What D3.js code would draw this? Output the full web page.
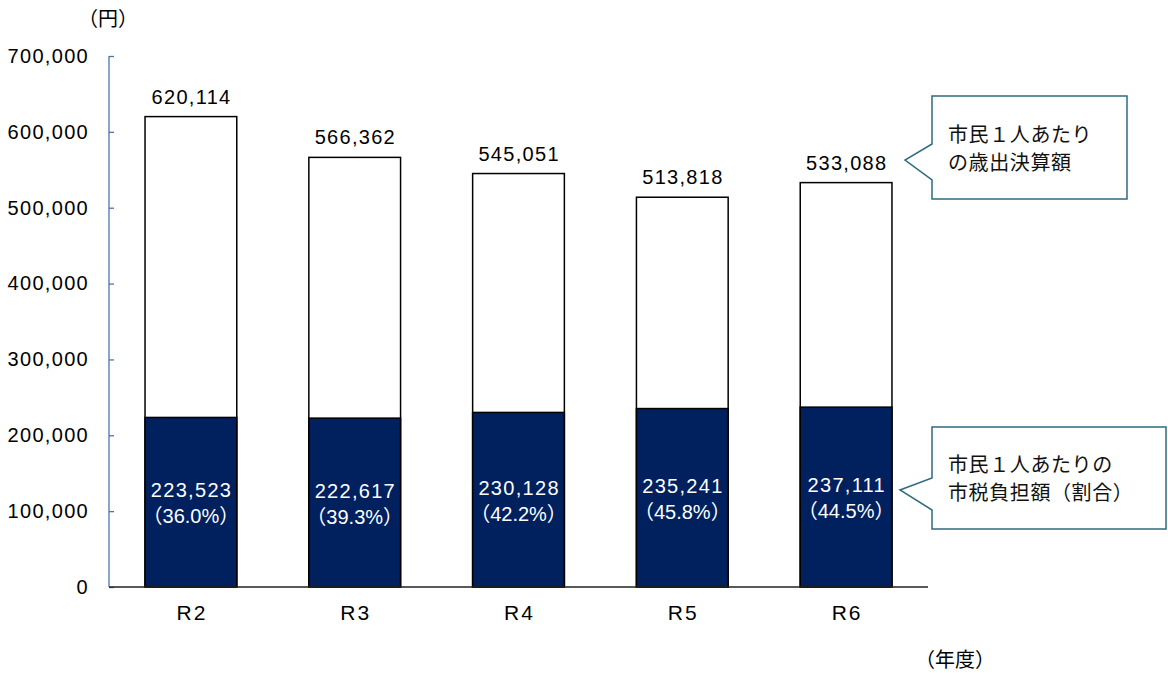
<!DOCTYPE html>
<html>
<head>
<meta charset="utf-8">
<script src="https://cdn.jsdelivr.net/npm/d3@7"></script>
<style>
  body { margin: 0; background: #fff; }
  svg { display: block; font-family: "Liberation Sans", Arial, "Noto Sans CJK JP", sans-serif; }
</style>
</head>
<body>
<svg id="chart" width="1168" height="673"></svg>
<script>
var years = ["R2", "R3", "R4", "R5", "R6"];
var expenditure = [620114, 566362, 545051, 513818, 533088];
var taxBurden = [223523, 222617, 230128, 235241, 237111];
var shareLabels = ["36.0%", "39.3%", "42.2%", "45.8%", "44.5%"];
var yTicks = [0, 100000, 200000, 300000, 400000, 500000, 600000, 700000];

var svg = d3.select("#chart");
var fmt = d3.format(",");
var fs = 20;
var ls = 1.3; // wider numerals like the original

var xScale = d3.scaleBand().domain(years).range([109, 928]).paddingInner(0.44).paddingOuter(0.22);
var yScale = d3.scaleLinear().domain([0, 700000]).range([587, 56]);

// y axis
var yAxis = d3.axisLeft(yScale).tickValues(yTicks).tickSize(-5).tickPadding(20).tickFormat(fmt);
var gy = svg.append("g").attr("transform", "translate(109,0)").call(yAxis);
gy.select(".domain").attr("stroke", "#4a76b0").attr("stroke-width", 1.3)
    .attr("d", "M0," + yScale(700000) + "V" + yScale(0));
gy.selectAll(".tick line").attr("stroke", "#4a76b0").attr("stroke-width", 1.3);
gy.selectAll(".tick text").attr("font-size", fs).attr("fill", "#000")
    .attr("letter-spacing", ls)
    .attr("font-family", "'Liberation Sans', Arial, sans-serif");

// total bars (white)
svg.selectAll(".total")
    .data(years)
    .enter()
    .append("rect")
    .attr("class", "total")
    .attr("x", function (d) { return xScale(d); })
    .attr("width", xScale.bandwidth())
    .attr("y", function (d, i) { return yScale(expenditure[i]); })
    .attr("height", function (d, i) { return yScale(0) - yScale(expenditure[i]); })
    .attr("fill", "#fff")
    .attr("stroke", "#000")
    .attr("stroke-width", 1.5);

// tax bars (navy)
svg.selectAll(".tax")
    .data(years)
    .enter()
    .append("rect")
    .attr("class", "tax")
    .attr("x", function (d) { return xScale(d); })
    .attr("width", xScale.bandwidth())
    .attr("y", function (d, i) { return yScale(taxBurden[i]); })
    .attr("height", function (d, i) { return yScale(0) - yScale(taxBurden[i]); })
    .attr("fill", "#00205e")
    .attr("stroke", "#000")
    .attr("stroke-width", 1.5);

// x baseline
svg.append("line")
    .attr("x1", 109).attr("x2", 928)
    .attr("y1", yScale(0)).attr("y2", yScale(0))
    .attr("stroke", "#222").attr("stroke-width", 1.3);

// total labels
svg.selectAll(".totLabel")
    .data(years)
    .enter()
    .append("text")
    .attr("x", function (d) { return xScale(d) + xScale.bandwidth() / 2 + ls / 2; })
    .attr("y", function (d, i) { return yScale(expenditure[i]) - 13; })
    .attr("text-anchor", "middle")
    .attr("font-size", fs)
    .attr("letter-spacing", ls)
    .text(function (d, i) { return fmt(expenditure[i]); });

// inside labels
years.forEach(function (d, i) {
    var cx = xScale(d) + xScale.bandwidth() / 2 + ls / 2;
    var cy = yScale(taxBurden[i] / 2);
    var t = svg.append("text")
        .attr("text-anchor", "middle")
        .attr("fill", "#fff")
        .attr("letter-spacing", ls)
        .attr("font-size", fs);
    t.append("tspan").attr("x", cx).attr("y", cy - 5).text(fmt(taxBurden[i]));
    t.append("tspan").attr("x", cx - ls / 2).attr("y", cy + 21)
        .attr("letter-spacing", 0)
        .text("（" + shareLabels[i] + "）");
});

// category labels
svg.selectAll(".cat")
    .data(years)
    .enter()
    .append("text")
    .attr("x", function (d) { return xScale(d) + xScale.bandwidth() / 2 + 1; })
    .attr("y", 620)
    .attr("text-anchor", "middle")
    .attr("font-size", 21)
    .attr("letter-spacing", 2)
    .text(function (d) { return d; });

// unit labels
svg.append("text").attr("x", 108).attr("y", 26).attr("text-anchor", "middle")
    .attr("font-size", 20).attr("font-family", "'Noto Sans CJK JP', sans-serif").text("（円）");
svg.append("text").attr("x", 955).attr("y", 667).attr("text-anchor", "middle")
    .attr("font-size", 20).attr("font-family", "'Noto Sans CJK JP', sans-serif").text("（年度）");

// callouts
function callout(x0, y0, x1, y1, py1, tip, py2, lines) {
    var p = d3.path();
    p.moveTo(x0, y0);
    p.lineTo(x1, y0);
    p.lineTo(x1, y1);
    p.lineTo(x0, y1);
    p.lineTo(x0, py2);
    p.lineTo(tip[0], tip[1]);
    p.lineTo(x0, py1);
    p.closePath();
    svg.append("path").attr("d", p.toString())
        .attr("fill", "#fff").attr("stroke", "#2e6b7e").attr("stroke-width", 1.5);
    var t = svg.append("text")
        .attr("font-size", 20)
        .attr("letter-spacing", 0.6)
        .attr("font-family", "'Noto Sans CJK JP', sans-serif")
        .attr("fill", "#111");
    lines.forEach(function (s, k) {
        t.append("tspan").attr("x", x0 + 16).attr("y", (y0 + y1) / 2 - 6 + k * 28).text(s);
    });
}
callout(932, 96, 1127, 199, 144, [905, 160], 180, ["市民１人あたり", "の歳出決算額"]);
callout(932, 427, 1166, 529, 478, [900, 490], 510, ["市民１人あたりの", "市税負担額（割合）"]);
</script>
</body>
</html>
